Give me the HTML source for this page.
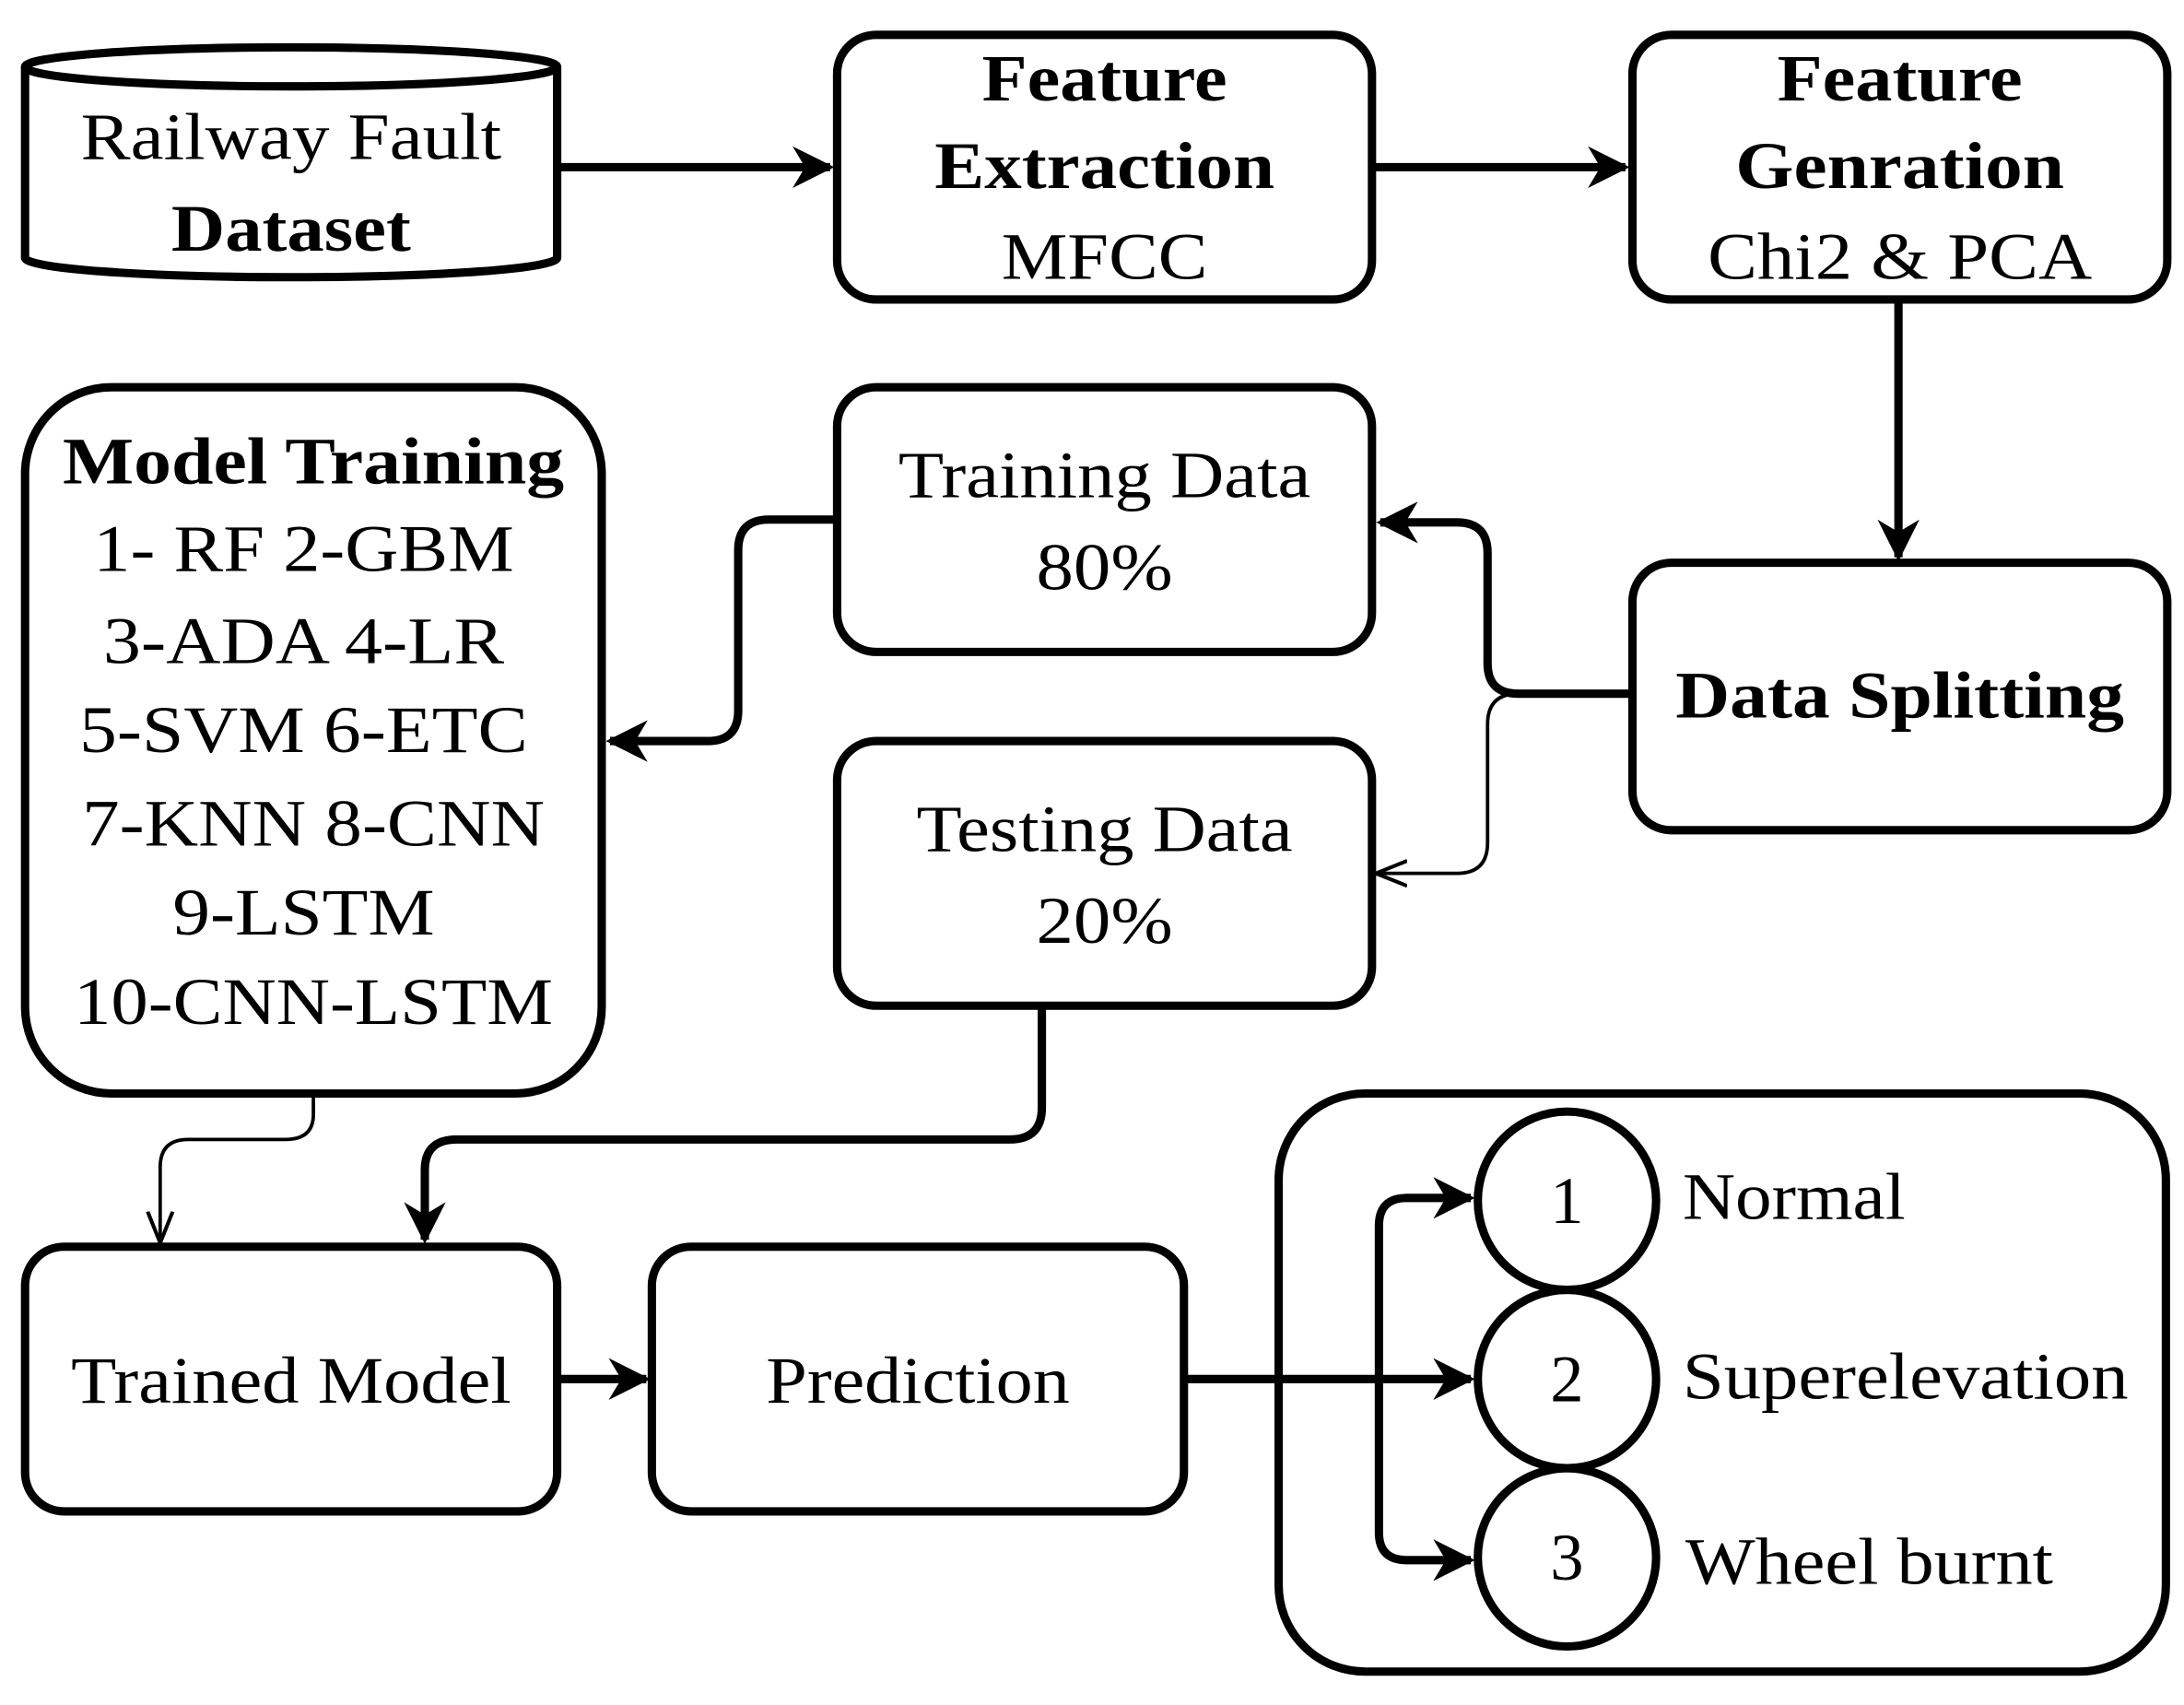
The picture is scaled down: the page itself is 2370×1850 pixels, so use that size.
<!DOCTYPE html>
<html><head><meta charset="utf-8"><style>
html,body{margin:0;padding:0;background:#fff;}
svg{display:block;}
text{font-family:"Liberation Serif",serif;font-size:48px;fill:#000;}
.b{font-weight:bold;}
</style></head><body>
<svg width="2370" height="1850" viewBox="0 0 1568 1224" preserveAspectRatio="none" xmlns="http://www.w3.org/2000/svg">
<defs>
<marker id="a" viewBox="0 0 10 10" refX="9" refY="5" markerWidth="5" markerHeight="5" orient="auto" markerUnits="strokeWidth"><path d="M0,0 L10,5 L0,10 L3,5 Z" fill="#000"/></marker>
<marker id="t" viewBox="0 0 10 10" refX="9" refY="5" markerWidth="9" markerHeight="9" orient="auto" markerUnits="strokeWidth"><path d="M0,1 L10,5 L0,9" fill="none" stroke="#000" stroke-width="1.2"/></marker>
</defs>
<g fill="none" stroke="#000" stroke-width="6">
<!-- cylinder -->
<path d="M18,48 L18,185 A191,14 0 0 0 400,185 L400,48"/>
<ellipse cx="209" cy="48" rx="191" ry="14"/>
<rect x="601" y="25" width="384" height="190" rx="28"/>
<rect x="1172" y="25" width="384" height="190" rx="28"/>
<rect x="1172" y="404" width="384" height="192" rx="28"/>
<rect x="601" y="278" width="384" height="190" rx="28"/>
<rect x="601" y="532" width="384" height="190" rx="28"/>
<rect x="18" y="278" width="414" height="507" rx="62"/>
<rect x="18" y="895" width="382" height="190" rx="28"/>
<rect x="468" y="895" width="382" height="190" rx="28"/>
<rect x="918" y="785" width="637" height="415" rx="62"/>
<circle cx="1125" cy="862" r="64"/>
<circle cx="1125" cy="990" r="64"/>
<circle cx="1125" cy="1118" r="64"/>
<!-- arrows -->
<path d="M400,120 L596,120" marker-end="url(#a)"/>
<path d="M985,120 L1167,120" marker-end="url(#a)"/>
<path d="M1363,215 L1363,400" marker-end="url(#a)"/>
<path d="M1172,498 L1090,498 Q1068,498 1068,476 L1068,397 Q1068,375 1046,375 L991,375" marker-end="url(#a)"/>
<path d="M601,373 L552,373 Q530,373 530,395 L530,510 Q530,532 508,532 L438,532" marker-end="url(#a)"/>
<path d="M748,722 L748,795 Q748,818 725,818 L328,818 Q305,818 305,840 L305,890" marker-end="url(#a)"/>
<path d="M400,990 L464,990" marker-end="url(#a)"/>
<path d="M850,990 L1056,990" marker-end="url(#a)"/>
<path d="M990,990 L990,880 Q990,860 1010,860 L1056,860" marker-end="url(#a)"/>
<path d="M990,990 L990,1100 Q990,1120 1010,1120 L1056,1120" marker-end="url(#a)"/>
</g>
<g fill="none" stroke="#000" stroke-width="2.5">
<path d="M1090,498 Q1068,498 1068,520 L1068,605 Q1068,627 1046,627 L990,627" marker-end="url(#t)"/>
<path d="M225,787 L225,800 Q225,818 205,818 L135,818 Q115,818 115,838 L115,890" marker-end="url(#t)"/>
</g>
<g text-anchor="middle">
<text x="209" y="114" textLength="302" lengthAdjust="spacingAndGlyphs">Railway Fault</text>
<text x="209" y="180" class="b" textLength="172" lengthAdjust="spacingAndGlyphs">Dataset</text>
<text x="793" y="72" class="b" textLength="176" lengthAdjust="spacingAndGlyphs">Feature</text>
<text x="793" y="135" class="b" textLength="244" lengthAdjust="spacingAndGlyphs">Extraction</text>
<text x="793" y="200" textLength="148" lengthAdjust="spacingAndGlyphs">MFCC</text>
<text x="1364" y="72" class="b" textLength="176" lengthAdjust="spacingAndGlyphs">Feature</text>
<text x="1364" y="135" class="b" textLength="236" lengthAdjust="spacingAndGlyphs">Genration</text>
<text x="1364" y="200" textLength="276" lengthAdjust="spacingAndGlyphs">Chi2 &amp; PCA</text>
<text x="1364" y="515" class="b" textLength="322" lengthAdjust="spacingAndGlyphs">Data Splitting</text>
<text x="793" y="357" textLength="296" lengthAdjust="spacingAndGlyphs">Training Data</text>
<text x="793" y="423" textLength="98" lengthAdjust="spacingAndGlyphs">80%</text>
<text x="793" y="611" textLength="270" lengthAdjust="spacingAndGlyphs">Testing Data</text>
<text x="793" y="677" textLength="98" lengthAdjust="spacingAndGlyphs">20%</text>
<text x="225" y="347" class="b" textLength="360" lengthAdjust="spacingAndGlyphs">Model Training</text>
<text x="218" y="410" textLength="302" lengthAdjust="spacingAndGlyphs">1- RF 2-GBM</text>
<text x="218" y="476" textLength="288" lengthAdjust="spacingAndGlyphs">3-ADA 4-LR</text>
<text x="218" y="540" textLength="322" lengthAdjust="spacingAndGlyphs">5-SVM 6-ETC</text>
<text x="225" y="607" textLength="332" lengthAdjust="spacingAndGlyphs">7-KNN 8-CNN</text>
<text x="218" y="671" textLength="188" lengthAdjust="spacingAndGlyphs">9-LSTM</text>
<text x="225" y="735" textLength="344" lengthAdjust="spacingAndGlyphs">10-CNN-LSTM</text>
<text x="209" y="1007" textLength="316" lengthAdjust="spacingAndGlyphs">Trained Model</text>
<text x="659" y="1007" textLength="218" lengthAdjust="spacingAndGlyphs">Prediction</text>
<text x="1125" y="878">1</text>
<text x="1125" y="1006">2</text>
<text x="1125" y="1134">3</text>
</g>
<text x="1208" y="875" textLength="160" lengthAdjust="spacingAndGlyphs">Normal</text>
<text x="1208" y="1004" textLength="320" lengthAdjust="spacingAndGlyphs">Superelevation</text>
<text x="1210" y="1137" textLength="264" lengthAdjust="spacingAndGlyphs">Wheel burnt</text>
</svg>
</body></html>
